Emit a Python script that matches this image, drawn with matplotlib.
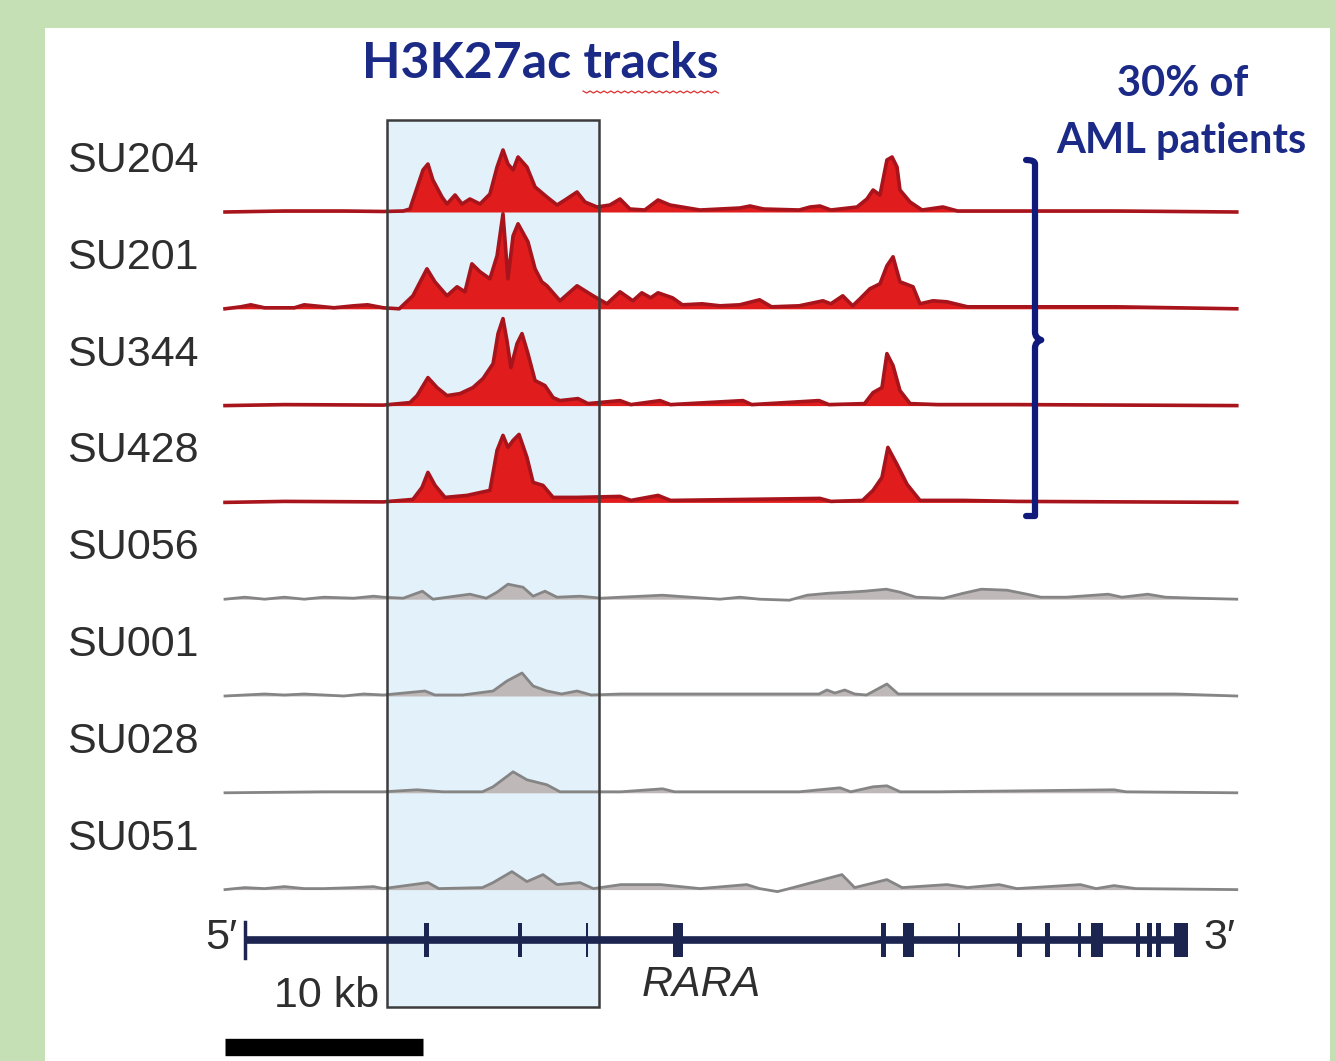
import numpy as np
import matplotlib.pyplot as plt
from matplotlib.patches import Rectangle, PathPatch
from matplotlib.path import Path

# sample names, top to bottom
samples = ["SU204", "SU201", "SU344", "SU428", "SU056", "SU001", "SU028", "SU051"]
active = [True, True, True, True, False, False, False, False]

# H3K27ac signal profiles: position (kb) and height (signal units)
su204_kb = [0, 3, 6, 8, 9.0, 9.34, 9.49, 10.0, 10.25, 10.5, 10.96, 11.21, 11.62, 11.97, 12.37, 12.88,
            13.38, 13.74, 14.04, 14.29, 14.55, 14.80, 15.25, 15.66, 16.26, 16.77, 17.17, 17.78, 18.18,
            18.79, 19.44, 19.95, 20.45, 21.2, 21.87, 22.47, 23.99, 26.0, 26.52, 27.2, 29.0, 29.55, 30.05,
            30.6, 31.92, 32.42, 32.73, 33.08, 33.43, 33.69, 33.94, 34.09, 34.60, 35.20, 36.26, 37, 40, 45, 51.1]
su204_sig = [0, 1, 1, 0.5, 1, 3, 12, 42, 48, 32, 15, 8, 17, 8, 13, 8,
             18, 45, 62, 48, 42, 55, 45, 25, 15, 7, 12, 20, 10,
             5, 7, 13, 3, 2, 12, 7, 2, 4, 6, 3, 2, 5, 6,
             2, 5, 13, 22, 17, 52, 55, 45, 22, 10, 2, 5, 1, 1, 1, 0]

su201_kb = [0, 0.8, 1.3, 2, 3.5, 4.0, 4.5, 5.5, 6.5, 7.2, 8, 8.8, 9.49, 10.2, 10.6, 11.21, 11.72, 12.12,
            12.47, 12.88, 13.38, 13.74, 14.04, 14.29, 14.55, 14.80, 15.30, 15.66, 16.0, 16.26, 16.92,
            17.78, 18.59, 19.29, 19.95, 20.6, 21.05, 21.5, 21.87, 22.6, 23.1, 24.1, 25.0, 26.0, 27.0,
            27.6, 29.0, 30.2, 30.6, 31.2, 31.7, 32.07, 32.57, 33.08, 33.43, 33.74, 34.09, 34.75, 35.10,
            35.76, 36.46, 37.5, 40, 45, 51.1]
su201_sig = [0, 2, 4, 1, 1, 4, 3, 1, 3, 4, 1, 0, 13, 40, 27, 13, 22, 17,
             45, 37, 30, 53, 95, 30, 73, 85, 67, 40, 27, 23, 8,
             23, 13, 5, 17, 8, 16, 11, 16, 11, 4, 5, 3, 4, 9,
             2, 3, 8, 5, 13, 3, 10, 20, 25, 43, 52, 27, 22, 5,
             8, 7, 2, 2, 2, 0]

su344_kb = [0, 3, 8, 9.34, 9.70, 10.25, 10.71, 11.21, 11.87, 12.52, 13.03, 13.54, 13.79, 14.04, 14.24,
            14.44, 14.75, 15.0, 15.30, 15.66, 16.16, 16.57, 16.92, 17.83, 18.33, 19.95, 20.5, 21.97, 22.5,
            26.16, 26.6, 30.0, 30.5, 32.3, 32.73, 33.18, 33.43, 33.74, 34.09, 34.60, 36, 40, 51.1]
su344_sig = [0, 1, 0.5, 3, 10, 28, 18, 10, 12, 18, 27, 42, 72, 87, 65,
             38, 62, 72, 52, 25, 20, 8, 5, 7, 2, 5, 1, 5, 1,
             5, 1, 5, 1, 2, 13, 18, 52, 40, 15, 2, 1, 1, 0]

su428_kb = [0, 3, 8, 9.49, 9.95, 10.25, 10.61, 11.11, 12.22, 13.38, 13.74, 14.04, 14.29, 14.55, 14.85,
            15.25, 15.56, 16.06, 16.57, 17.78, 19.95, 20.5, 21.87, 22.5, 30.05, 30.6, 32.2, 32.73, 33.18,
            33.48, 33.94, 34.45, 35.10, 37.3, 40, 51.1]
su428_sig = [0, 1, 0.5, 3, 15, 30, 17, 5, 7, 12, 52, 67, 55, 62, 68,
             45, 20, 17, 5, 5, 6, 2, 7, 2, 4, 1, 2, 12, 25,
             55, 38, 18, 2, 2, 1, 0]

su056_kb = [0, 1, 2, 3, 4, 5, 6.5, 7.5, 8.0, 9.0, 9.97, 10.5, 12.37, 13.2, 13.74, 14.29, 15.05, 15.56,
            16.16, 16.77, 17.93, 19.0, 20, 22.1, 23.5, 25.0, 26.0, 27.0, 28.5, 29.4, 30.5, 31.5, 32.3,
            33.4, 34.1, 34.9, 36.3, 37.3, 38.2, 39.5, 40.5, 41.2, 42.5, 44.6, 45.3, 46.6, 47.5, 49, 51.1]
su056_sig = [0, 2, 0, 2, 0, 2, 1, 3, 2, 1, 8, 0, 5, 1, 7, 15, 12, 3,
             8, 2, 3, 1, 2, 4, 2, 0, 2, 0, -1, 4, 6, 7, 8,
             10, 7, 2, 1, 6, 10, 9, 5, 2, 2, 5, 2, 5, 2, 1, 0]

su001_kb = [0, 1, 2, 3, 4, 5, 6, 7, 8, 10.1, 10.6, 12, 13.54, 14.24, 15.0, 15.56, 16.26, 17.0, 17.78,
            18.5, 20, 25, 30, 30.4, 30.8, 31.3, 31.8, 32.4, 33.43, 34.0, 36, 40, 45, 48, 51.1]
su001_sig = [0, 1, 2, 1, 2, 1, 0, 2, 1, 5, 1, 1, 5, 15, 23, 10, 5, 2, 5,
             1, 2, 2, 2, 6, 3, 6, 2, 1, 12, 2, 2, 2, 2, 2, 0]

su028_kb = [0, 5, 8, 9.7, 11, 13.0, 13.54, 14.55, 15.25, 16.26, 16.92, 20, 22.1, 22.7, 29.0, 31.06,
            31.6, 32.73, 33.43, 34.1, 36, 44.9, 45.5, 51.1]
su028_sig = [0, 1, 1, 3, 1, 1, 6, 21, 13, 8, 1, 1, 4, 1, 1, 5,
             1, 6, 7, 1, 1, 3, 1, 0]

su051_kb = [0, 1, 2, 3, 4, 5, 6.5, 7.5, 8.0, 10.25, 10.8, 13.0, 13.54, 14.49, 15.25, 16.06, 16.77, 17.93,
            18.6, 20, 22, 24.0, 26.35, 27.0, 27.9, 28.5, 31.16, 31.8, 33.43, 34.2, 36.46, 37.5, 39.1, 40,
            43.2, 44, 44.9, 46.0, 51.1]
su051_sig = [0, 2, 1, 3, 1, 1, 2, 3, 1, 7, 1, 2, 7, 18, 8, 15, 5, 7,
             1, 5, 5, 1, 5, 1, -2, 1, 15, 2, 10, 2, 5, 2, 5, 1,
             5, 1, 4, 1, 0]

track_kb = [su204_kb, su201_kb, su344_kb, su428_kb, su056_kb, su001_kb, su028_kb, su051_kb]
track_sig = [su204_sig, su201_sig, su344_sig, su428_sig, su056_sig, su001_sig, su028_sig, su051_sig]

# RARA gene model (kb)
gene_start, gene_end = 1.0, 48.6
exon_center = [10.2, 14.9, 18.28, 22.9, 33.28, 34.5, 37.07, 40.15, 41.55, 43.18, 44.04, 46.11, 46.67, 47.17, 48.28]
exon_width = [0.25, 0.25, 0.1, 0.5, 0.25, 0.55, 0.1, 0.25, 0.25, 0.15, 0.6, 0.25, 0.25, 0.25, 0.7]

# highlighted enhancer region (kb)
region_start, region_end = 8.2, 18.87
scale_kb = 10

# ---- layout (page is 1336x1061 px; x axis in kb, y axis in px from top)
px0, px_per_kb = 225., 19.8
def kb(px):
    return (px - px0) / px_per_kb

W, H = 1336, 1061
fig = plt.figure(figsize=(W / 100, H / 100), dpi=100)
fig.patch.set_facecolor("#c5e0b4")
ax = fig.add_axes([0, 0, 1, 1])
ax.set_xlim(kb(0), kb(W))
ax.set_ylim(H, 0)
ax.axis("off")

ax.add_patch(Rectangle((kb(45), 28), kb(1330) - kb(45), H - 28, facecolor="white", edgecolor="none", zorder=0))

base0, step = 212., 96.8
baselines = [base0 + step * i for i in range(len(samples))]

# highlight box
box_top, box_bot = 120, 1007
ax.add_patch(Rectangle((region_start, box_top), region_end - region_start, box_bot - box_top,
                       facecolor="#e3f1fa", edgecolor="none", zorder=1))
ax.add_patch(Rectangle((region_start, box_top), region_end - region_start, box_bot - box_top,
                       facecolor="none", edgecolor="#3c3c3c", lw=1.8, zorder=5))

label_font = ["Liberation Sans", "DejaVu Sans"]
txt_col = "#2e2e2e"
for name, on, b, xs, ys in zip(samples, active, baselines, track_kb, track_sig):
    xs = np.array(xs)
    ys = b - np.array(ys, dtype=float)
    if on:
        fc, ec, lw = "#e01c1c", "#a8141b", 2.6
    else:
        fc, ec, lw = "#bfb8b8", "#858585", 2.0
    ax.fill_between(xs, b, ys, color=fc, lw=0, zorder=3)
    ax.plot(xs, ys, color=ec, lw=lw, zorder=4, solid_joinstyle="round")
    ax.text(kb(67), b - 51, name, fontsize=31, color=txt_col, ha="left", va="center",
            family=label_font)

# gene model
gy = 940
gcol = "#1b2550"
ax.plot([gene_start, gene_end], [gy, gy], color=gcol, lw=5.5, solid_capstyle="butt", zorder=6)
ax.plot([gene_start, gene_start], [gy - 18, gy + 18], color=gcol, lw=2.5, zorder=6)
for c, w in zip(exon_center, exon_width):
    ax.add_patch(Rectangle((c - w / 2, gy - 17), w, 34, facecolor=gcol, edgecolor="none", zorder=6))
ax.text(gene_start - 0.4, gy - 2, "5\u2032", fontsize=31, color=txt_col, ha="right", va="center", family=label_font)
ax.text(gene_end + 0.8, gy - 2, "3\u2032", fontsize=31, color=txt_col, ha="left", va="center", family=label_font)
ax.text(kb(642), 985, "RARA", fontsize=31, color=txt_col, ha="left", va="center", style="italic",
        family=label_font)

# scale bar
ax.plot([0, scale_kb], [1047, 1047], color="black", lw=12.5, solid_capstyle="butt", zorder=6)
ax.text(kb(379), 996, "10 kb", fontsize=31, color=txt_col, ha="right", va="center", family=label_font)

# title with spell-check underline
navy = "#1b2a86"
tfont = ["Lato", "DejaVu Sans"]
title = ax.text(kb(540), 64, "H3K27ac tracks", fontsize=36, fontweight="bold", color=navy,
                ha="center", va="center", family=tfont)
fig.canvas.draw()
r = fig.canvas.get_renderer()
tb = title.get_window_extent(r)
tmp = ax.text(0, 0, "tracks", fontsize=36, fontweight="bold", family=tfont)
tw = tmp.get_window_extent(r).width
tmp.remove()
inv = ax.transData.inverted()
x0d, _ = inv.transform((tb.x1 - tw, 0))
x1d, _ = inv.transform((tb.x1, 0))
n = 40
zx = np.linspace(x0d, x1d, n)
zy = 91 + 2.0 * (np.arange(n) % 2)
ax.plot(zx, zy, color="#e03030", lw=0.9, zorder=7)

# bracket for the four active samples
bx = kb(1035)
top, mid, bot = 160, 340, 516
d = 0.45
verts = [(bx - d, top), (bx, top), (bx, top + 4), (bx, top + 12),
         (bx, mid - 8), (bx, mid - 2), (bx + d * 0.7, mid), (bx, mid + 2), (bx, mid + 8),
         (bx, bot - 12), (bx, bot - 4), (bx, bot), (bx - d, bot)]
codes = [Path.MOVETO, Path.CURVE3, Path.CURVE3, Path.LINETO,
         Path.LINETO, Path.CURVE3, Path.CURVE3, Path.CURVE3, Path.CURVE3,
         Path.LINETO, Path.CURVE3, Path.CURVE3, Path.LINETO]
ax.add_patch(PathPatch(Path(verts, codes), facecolor="none", edgecolor="#0f1a7a", lw=4.5,
                       capstyle="round", joinstyle="round", zorder=8))
ax.text(kb(1183), 84, "30% of", fontsize=30, fontweight="bold", color=navy, ha="center", va="center",
        family=tfont)
ax.text(kb(1181), 141, "AML patients", fontsize=30, fontweight="bold", color=navy, ha="center", va="center",
        family=tfont)

fig.savefig("out.png", dpi=100, facecolor=fig.get_facecolor())
